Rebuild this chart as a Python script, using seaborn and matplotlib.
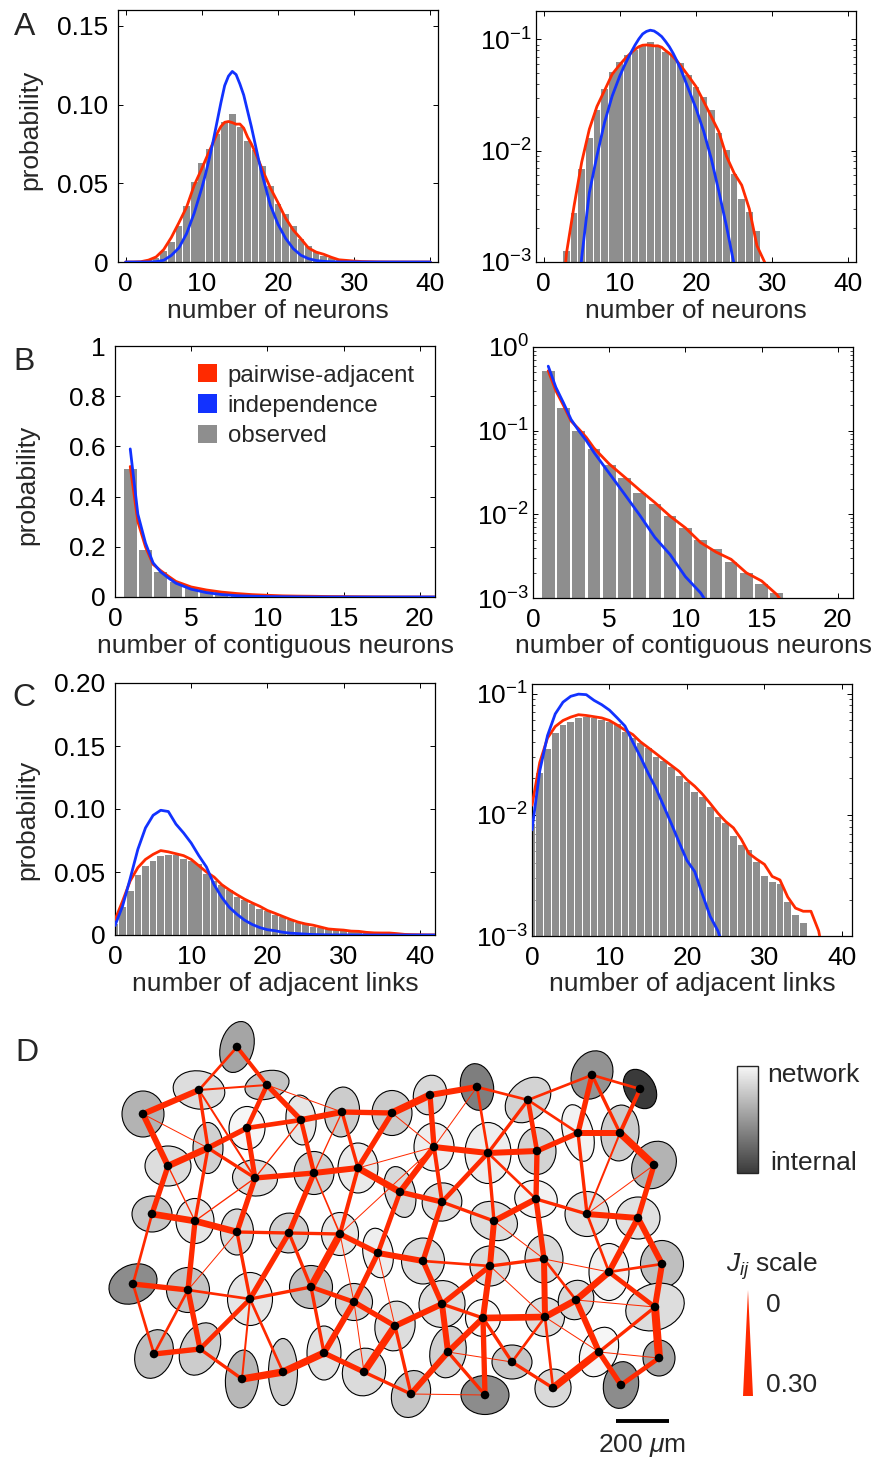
import numpy as np
import matplotlib
matplotlib.use("Agg")
import matplotlib.pyplot as plt
import seaborn as sns
from matplotlib.patches import Ellipse, Polygon, Patch
from matplotlib.collections import LineCollection
from matplotlib.colors import LinearSegmentedColormap, Normalize
from matplotlib.cm import ScalarMappable
from matplotlib.ticker import FuncFormatter, LogLocator, NullFormatter, FixedLocator

# ---------------- data: panel A (number of neurons) ----------------
A_bar_n = list(range(2, 31))
A_bar_p = [0.0007, 0.00126, 0.00273, 0.0069, 0.0129, 0.0231, 0.0355, 0.051, 0.063, 0.072,
           0.081, 0.089, 0.094, 0.086, 0.077, 0.071, 0.061, 0.048, 0.037, 0.0305,
           0.023, 0.0143, 0.0101, 0.0062, 0.0037, 0.0028, 0.0019, 0.0008, 0.0005]
A_line_n = [0, 1, 2, 3, 4, 5, 6, 7, 8, 9, 10, 10.5, 11, 11.5, 12, 12.5, 13, 13.5, 14, 14.5,
            15, 15.5, 16, 16.5, 17, 17.5, 18, 19, 20, 21, 22, 23, 24, 25, 26, 27, 28, 29, 30,
            31, 32, 33, 34, 35, 36, 37, 38, 39, 40]
A_pair = [1e-6, 1e-5, 2e-4, 0.0012, 0.0032, 0.0079, 0.0156, 0.025, 0.0348, 0.0487,
          0.0593, 0.065, 0.0705, 0.076, 0.0815, 0.086, 0.0887, 0.0892, 0.0885, 0.0875,
          0.0876, 0.085, 0.0794, 0.075, 0.0698, 0.064, 0.058, 0.047,
          0.0377, 0.0278, 0.0203, 0.0148, 0.0089, 0.0063, 0.0049, 0.003, 0.0014, 0.001,
          0.0006, 0.0003, 0.0002, 1e-4, 6e-5, 3e-5, 2e-5, 1e-5, 5e-6, 3e-6, 1e-6]
A_indep = [1e-8, 1e-7, 1e-6, 1e-5, 2e-4, 0.0011, 0.0042, 0.009, 0.018, 0.031,
           0.047, 0.056, 0.066, 0.077, 0.089, 0.101, 0.112, 0.118, 0.121, 0.119,
           0.113, 0.106, 0.096, 0.086, 0.075, 0.064, 0.054, 0.036,
           0.024, 0.015, 0.0085, 0.0043, 0.0021, 0.00095, 0.0004, 1.5e-4, 5e-5, 2e-5,
           1e-5, 5e-6, 2e-6, 1e-6, 5e-7, 2e-7, 1e-7, 5e-8, 2e-8, 1e-8, 1e-8]

# ---------------- data: panel B (contiguous neurons) ----------------
B_bar_n = list(range(1, 17))
B_bar_p = [0.51, 0.188, 0.098, 0.060, 0.0385, 0.0272, 0.0182, 0.0132, 0.0095, 0.0068,
           0.005, 0.0038, 0.0027, 0.002, 0.00146, 0.00116]
B_line_n = [1, 1.5, 2, 2.5, 3, 3.5, 4, 5, 6, 7, 8, 9, 10, 11, 12, 13, 14, 15, 16, 17, 18, 19, 20, 21]
B_pair = [0.52, 0.3, 0.2, 0.13, 0.105, 0.083, 0.062, 0.04, 0.028, 0.0195, 0.0138, 0.0095, 0.0069,
          0.0046, 0.00355, 0.0029, 0.002, 0.0016, 0.0011, 0.0006, 3e-4, 1.5e-4, 8e-5, 4e-5]
B_indep = [0.59, 0.33, 0.215, 0.136, 0.1, 0.076, 0.055, 0.031, 0.0175, 0.0098, 0.0053, 0.0033,
           0.0018, 0.00115, 6e-4, 2.5e-4, 1.2e-4, 6e-5, 3e-5, 1.5e-5, 8e-6, 4e-6, 2e-6, 1e-6]

# ---------------- data: panel C (adjacent links) ----------------
C_bar_n = list(range(0, 36))
C_bar_p = [0.0084, 0.022, 0.0347, 0.0476, 0.055, 0.0587, 0.0627, 0.0638, 0.0634, 0.0607,
           0.0587, 0.056, 0.0486, 0.0428, 0.0394, 0.0354, 0.0302, 0.0279, 0.0249, 0.0209,
           0.0188, 0.0155, 0.0141, 0.0116, 0.0096, 0.0085, 0.0067, 0.0056, 0.0051, 0.0041,
           0.0031, 0.0028, 0.0027, 0.0019, 0.0015, 0.00127]
C_line_n = list(range(0, 43))
C_pair = [0.012, 0.027, 0.043, 0.0535, 0.06, 0.064, 0.067, 0.066, 0.0645, 0.063,
          0.06, 0.055, 0.05, 0.046, 0.04, 0.0358, 0.032, 0.0285, 0.0255, 0.0228,
          0.0195, 0.0172, 0.0148, 0.0124, 0.0103, 0.0088, 0.0078, 0.0063, 0.0048, 0.0043,
          0.0039, 0.0031, 0.0029, 0.0021, 0.0017, 0.0016, 0.0016, 0.0011, 0.0005, 0.0003,
          0.0002, 0.0001, 0.0001]
C_indep = [0.0075, 0.023, 0.045, 0.068, 0.085, 0.095, 0.099, 0.098, 0.088, 0.081,
           0.073, 0.063, 0.054, 0.04, 0.03, 0.022, 0.0165, 0.0118, 0.0084, 0.0059,
           0.0042, 0.0034, 0.0022, 0.00145, 0.0011, 0.0007, 0.0004, 2.5e-4, 1.5e-4, 8e-5,
           5e-5, 3e-5, 2e-5, 1e-5, 6e-6, 4e-6, 2e-6, 1e-6, 6e-7, 4e-7, 2e-7, 1e-7, 1e-7]

legend_labels = ["pairwise-adjacent", "independence", "observed"]

# ---------------- data: panel D (network; image units, 53 units = 200 um) ----------------
cell_x = [237, 199, 267, 143, 247, 301, 342, 392, 208, 168, 255, 314, 358, 400, 152, 195,
          430, 477, 528, 592, 640, 578, 620, 654, 434, 488, 537, 442, 536, 494, 587, 638,
          237, 289, 340, 378, 133, 188, 250, 311, 354, 395, 154, 200, 242, 283, 324, 364,
          411, 423, 490, 544, 609, 662, 442, 483, 545, 576, 655, 448, 512, 599, 659, 485,
          553, 621]
cell_y = [1047, 1090, 1085, 1114, 1128, 1120, 1112, 1113, 1148, 1166, 1178, 1173, 1168, 1192,
          1214, 1221, 1095, 1087, 1100, 1075, 1089, 1133, 1133, 1165, 1147, 1153, 1151, 1202,
          1199, 1221, 1214, 1218, 1232, 1233, 1234, 1253, 1284, 1290, 1299, 1287, 1302, 1326,
          1354, 1349, 1379, 1372, 1353, 1372, 1394, 1261, 1266, 1259, 1272, 1264, 1304, 1318,
          1317, 1300, 1307, 1352, 1362, 1352, 1358, 1395, 1388, 1385]
cell_w = [33, 52, 45, 42, 36, 30, 35, 40, 30, 46, 45, 40, 40, 30, 40, 38, 33, 33, 38, 40,
          30, 30, 38, 42, 40, 46, 38, 40, 43, 48, 44, 44, 33, 39, 37, 30, 50, 43, 45, 43,
          37, 40, 37, 38, 33, 29, 34, 43, 38, 43, 40, 38, 40, 43, 46, 35, 39, 35, 60, 36,
          40, 36, 32, 48, 36, 35]
cell_h = [52, 38, 28, 46, 43, 50, 50, 45, 51, 40, 36, 43, 50, 52, 36, 45, 40, 47, 52, 50,
          42, 58, 56, 50, 48, 61, 47, 38, 37, 38, 45, 42, 46, 40, 43, 50, 38, 45, 53, 43,
          37, 50, 50, 55, 58, 67, 54, 48, 48, 46, 40, 48, 57, 47, 47, 37, 39, 40, 46, 52,
          34, 52, 36, 39, 38, 47]
cell_tilt = [15, 10, -15, 0, 0, -5, 5, 0, 0, 0, 5, 0, 0, -15, 0, 0, 15, -10, 45, 25,
             -30, -15, 5, 35, 0, 0, 0, -20, 15, 20, 0, 0, 0, 20, 0, -10, -25, 0, 0, 0,
             0, 10, 20, 25, 5, 0, 0, 15, 20, 0, 0, 0, 0, 0, 20, 0, 0, 20, -20, 10,
             0, 25, 0, 0, 15, 10]
cell_network = [0.57, 0.86, 0.73, 0.64, 0.99, 0.91, 0.77, 0.77, 0.80, 0.86, 0.86, 0.80, 0.93,
                0.84, 0.74, 0.91, 0.84, 0.36, 0.81, 0.47, 0.0, 0.97, 0.77, 0.64, 0.95, 0.95,
                0.81, 0.86, 0.97, 0.86, 0.88, 0.88, 0.84, 0.80, 0.91, 0.95, 0.43, 0.73, 0.91,
                0.70, 0.81, 0.86, 0.70, 0.77, 0.66, 0.77, 0.88, 0.85, 0.74, 0.85, 0.85, 0.85,
                0.96, 0.70, 0.86, 1.0, 0.86, 0.84, 0.86, 0.80, 0.74, 0.99, 0.57, 0.43, 0.84, 0.43]
edges = [(1, 2, .08), (1, 3, .12), (2, 3, .06), (2, 4, .18), (2, 9, .10), (2, 11, .06),
         (3, 5, .14), (3, 6, .16), (3, 7, .03), (4, 9, .03), (4, 10, .18),
         (5, 6, .14), (5, 9, .16), (5, 11, .15), (6, 7, .18), (7, 8, .16), (8, 17, .22), (8, 25, .03),
         (6, 12, .13), (6, 11, .04), (7, 12, .04), (7, 13, .10), (8, 13, .16),
         (9, 10, .20), (9, 11, .10), (9, 16, .10), (10, 15, .16), (10, 16, .04), (11, 12, .16),
         (11, 16, .04), (11, 33, .16), (12, 13, .18), (12, 34, .16), (12, 35, .05), (13, 14, .20),
         (13, 25, .03), (13, 35, .12), (35, 25, .03), (14, 25, .18), (14, 36, .14),
         (15, 16, .20), (15, 37, .08), (16, 33, .20), (16, 38, .16),
         (17, 18, .18), (17, 25, .16), (18, 19, .08), (18, 25, .03), (18, 26, .08),
         (19, 20, .08), (19, 26, .10), (19, 27, .14), (19, 22, .08),
         (20, 21, .08), (20, 22, .16), (20, 23, .10), (21, 23, .12), (22, 23, .18),
         (22, 31, .10), (23, 24, .22), (23, 31, .06), (24, 31, .03), (24, 32, .16),
         (25, 26, .18), (25, 28, .12), (26, 27, .18), (26, 28, .14), (26, 29, .08), (26, 30, .10),
         (27, 29, .16), (27, 22, .16), (28, 30, .10), (14, 28, .16), (28, 50, .16),
         (29, 30, .18), (29, 31, .10), (29, 52, .16), (31, 32, .18), (30, 51, .18),
         (30, 52, .03), (50, 51, .08), (50, 55, .16), (36, 50, .18), (51, 52, .10), (51, 55, .16),
         (51, 56, .18), (51, 57, .03), (52, 57, .18), (52, 53, .03), (52, 58, .08), (57, 58, .20),
         (58, 53, .20), (53, 59, .14), (53, 32, .18), (53, 31, .08), (54, 32, .18),
         (53, 54, .08), (54, 59, .18), (59, 58, .03), (59, 62, .10), (59, 63, .24),
         (55, 56, .10), (55, 60, .18), (42, 55, .18), (56, 60, .18), (56, 61, .10), (57, 61, .08),
         (57, 62, .03), (56, 57, .20), (58, 62, .18), (60, 49, .18), (60, 61, .03), (60, 64, .10),
         (61, 65, .10), (62, 65, .22), (62, 63, .03), (62, 66, .16), (66, 63, .14), (49, 64, .03),
         (64, 56, .16), (65, 57, .08),
         (33, 34, .10), (33, 39, .10), (33, 38, .03), (34, 35, .10), (34, 40, .10), (34, 39, .16),
         (35, 40, .22), (35, 36, .16), (35, 41, .03), (36, 41, .16), (36, 42, .03), (37, 38, .16),
         (37, 43, .08), (38, 39, .08), (38, 43, .08), (38, 44, .16), (39, 40, .10), (39, 44, .14),
         (39, 45, .06), (39, 46, .08), (40, 41, .14), (40, 47, .10), (41, 42, .16), (41, 47, .18),
         (41, 48, .03), (42, 48, .22), (42, 49, .10), (43, 44, .16), (44, 45, .10), (45, 46, .22),
         (46, 47, .22), (47, 48, .16), (48, 49, .10)]
J_max = 0.30
units_per_200um = 53

# ---------------- style ----------------
RED = "#ff2a00"
BLUE = "#1232ff"
GREY = "#8e8e8e"
FS = 19
sns.set_style("ticks")
plt.rcParams["font.family"] = ["Liberation Sans", "DejaVu Sans"]
plt.rcParams["mathtext.fontset"] = "custom"
plt.rcParams["mathtext.rm"] = "Liberation Sans"
plt.rcParams["mathtext.it"] = "Liberation Sans:italic"
plt.rcParams["mathtext.default"] = "regular"

W, H = 880, 1463
fig = plt.figure(figsize=(W / 100, H / 100), dpi=100)


def px_axes(l, t, r, b):
    return fig.add_axes([l / W, 1 - b / H, (r - l) / W, (b - t) / H])


def log_fmt(v, _):
    return r"10$^{%d}$" % int(round(np.log10(v)))


def panel(box, bar_n, bar_p, line_n, pair, indep, shrink, xlim, xticks, log, ylim, yticks,
          xlabel, ylabel_y=None, yticklabels=None):
    ax = px_axes(*box)
    sns.histplot(x=bar_n, weights=bar_p, discrete=True, shrink=shrink, color=GREY,
                 alpha=1, edgecolor="none", linewidth=0, ax=ax, zorder=1)
    sns.lineplot(x=line_n, y=pair, color=RED, lw=2.0, ax=ax, zorder=3)
    sns.lineplot(x=line_n, y=indep, color=BLUE, lw=2.0, ax=ax, zorder=4)
    if log:
        ax.set_yscale("log")
        ax.yaxis.set_major_locator(FixedLocator(yticks))
        ax.yaxis.set_major_formatter(FuncFormatter(log_fmt))
        ax.yaxis.set_minor_locator(LogLocator(base=10, subs=np.arange(2, 10), numticks=20))
        ax.yaxis.set_minor_formatter(NullFormatter())
    else:
        ax.set_yticks(yticks)
        ax.set_yticklabels(yticklabels)
    ax.set_xlim(*xlim)
    ax.set_ylim(*ylim)
    ax.set_xticks(xticks)
    for s in ax.spines.values():
        s.set_visible(True)
        s.set_linewidth(0.9)
        s.set_color("black")
    ax.tick_params(which="major", direction="in", top=True, right=True, length=3.5,
                   width=0.7, labelsize=FS, pad=7, colors="black")
    ax.tick_params(axis="y", which="major", pad=3 if log else 7)
    ax.tick_params(which="minor", direction="in", top=False, right=True, left=True,
                   length=2, width=0.6)
    ax.set_xlabel(xlabel, fontsize=FS, labelpad=2)
    if ylabel_y is not None:
        ax.set_ylabel("probability", fontsize=FS)
        ax.yaxis.set_label_coords(-0.235, ylabel_y)
    else:
        ax.set_ylabel("")
    return ax


panel((118, 10, 438, 262), A_bar_n, A_bar_p, A_line_n, A_pair, A_indep, 0.87, (-1, 41),
      [0, 10, 20, 30, 40], False, (0, 0.16), [0, 0.05, 0.10, 0.15], "number of neurons",
      0.524, ["0", "0.05", "0.10", "0.15"])
panel((536, 11, 856, 262), A_bar_n, A_bar_p, A_line_n, A_pair, A_indep, 0.87, (-1, 41),
      [0, 10, 20, 30, 40], True, (1e-3, 0.18), [1e-3, 1e-2, 1e-1], "number of neurons")
axB = panel((115, 346, 435, 597), B_bar_n, B_bar_p, B_line_n, B_pair, B_indep, 0.83, (0, 21),
            [0, 5, 10, 15, 20], False, (0, 1), [0, 0.2, 0.4, 0.6, 0.8, 1],
            "number of contiguous neurons", 0.446, ["0", "0.2", "0.4", "0.6", "0.8", "1"])
panel((533, 347, 853, 598), B_bar_n, B_bar_p, B_line_n, B_pair, B_indep, 0.83, (0, 21),
      [0, 5, 10, 15, 20], True, (1e-3, 1), [1e-3, 1e-2, 1e-1, 1], "number of contiguous neurons")
panel((115, 683, 435, 935), C_bar_n, C_bar_p, C_line_n, C_pair, C_indep, 0.87, (0, 42),
      [0, 10, 20, 30, 40], False, (0, 0.2), [0, 0.05, 0.10, 0.15, 0.20],
      "number of adjacent links", 0.456, ["0", "0.05", "0.10", "0.15", "0.20"])
panel((532, 684, 852, 936), C_bar_n, C_bar_p, C_line_n, C_pair, C_indep, 0.87, (0, 41.3),
      [0, 10, 20, 30, 40], True, (1e-3, 0.12), [1e-3, 1e-2, 1e-1], "number of adjacent links")

handles = [Patch(facecolor=RED, edgecolor="none"), Patch(facecolor=BLUE, edgecolor="none"),
           Patch(facecolor=GREY, edgecolor="none")]
axB.legend(handles, legend_labels, loc="upper left", bbox_to_anchor=(0.258, 0.928),
           frameon=False, fontsize=17.3, handlelength=0.8, handleheight=0.8,
           handletextpad=0.45, labelspacing=0.32, borderpad=0, borderaxespad=0)

# panel letters
for letter, (x, y) in zip("ABCD", [(25, 27), (24, 362), (24, 698), (27, 1053)]):
    fig.text(x / W, 1 - y / H, letter, fontsize=23, ha="center", va="center")

# ---------------- panel D ----------------
axD = px_axes(90, 1000, 880, 1463)
axD.set_xlim(90, 880)
axD.set_ylim(1463, 1000)
axD.axis("off")
cmap = LinearSegmentedColormap.from_list("netint", ["#3a3a3a", "#f7f7f7"])
for x, y, w, h, t, v in zip(cell_x, cell_y, cell_w, cell_h, cell_tilt, cell_network):
    axD.add_patch(Ellipse((x, y), w, h, angle=t, facecolor=cmap(v), edgecolor="black",
                          lw=0.8, zorder=1))
segs = [[(cell_x[i - 1], cell_y[i - 1]), (cell_x[j - 1], cell_y[j - 1])] for i, j, _ in edges]
widths = [J / J_max * 10 * 0.72 for _, _, J in edges]
axD.add_collection(LineCollection(segs, linewidths=widths, colors=RED, capstyle="butt",
                                  zorder=2))
sns.scatterplot(x=cell_x, y=cell_y, color="black", s=38, edgecolor="none", ax=axD, zorder=3)
axD.set_xlim(90, 880)
axD.set_ylim(1463, 1000)

# scale bar
sb_x0 = 616
axD.plot([sb_x0, sb_x0 + units_per_200um], [1421, 1421], color="black", lw=2.8,
         solid_capstyle="butt")
axD.text(sb_x0 + units_per_200um / 2, 1446, r"200 $\mathit{\mu}$m", fontsize=FS,
         ha="center", va="center")

# J scale triangle
tri_half = J_max / J_max * 10 / 2
axD.add_patch(Polygon([(748, 1290), (748 - tri_half, 1396), (748 + tri_half, 1396)],
                      closed=True, facecolor=RED, edgecolor="none"))
axD.text(726, 1266, r"$\mathit{J_{ij}}$ scale", fontsize=FS, ha="left", va="center")
axD.text(766, 1305, "0", fontsize=FS, ha="left", va="center")
axD.text(766, 1385, "0.30", fontsize=FS, ha="left", va="center")

# network / internal colour bar
cax = px_axes(737, 1066, 758, 1173)
cb = fig.colorbar(ScalarMappable(norm=Normalize(0, 1), cmap=cmap), cax=cax)
cb.set_ticks([])
cb.outline.set_linewidth(1.0)
fig.text(767 / W, 1 - 1075 / H, "network", fontsize=FS, ha="left", va="center")
fig.text(770 / W, 1 - 1163 / H, "internal", fontsize=FS, ha="left", va="center")

fig.savefig("out.png", dpi=100)
